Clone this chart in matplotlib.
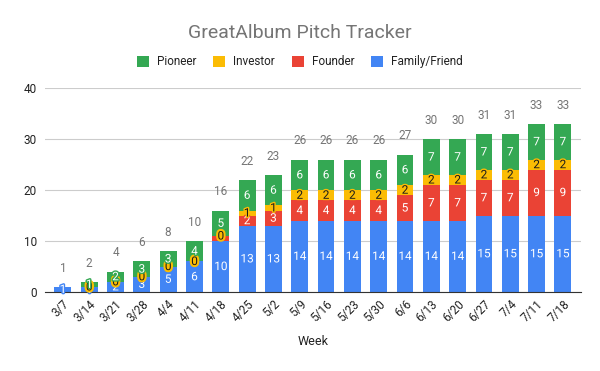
import matplotlib.pyplot as plt
import matplotlib.patheffects as pe
import numpy as np

plt.rcParams['font.family'] = ['Roboto', 'DejaVu Sans']

weeks = ['3/7', '3/14', '3/21', '3/28', '4/4', '4/11', '4/18', '4/25', '5/2', '5/9',
         '5/16', '5/23', '5/30', '6/6', '6/13', '6/20', '6/27', '7/4', '7/11', '7/18']
family = [1, 1, 2, 3, 5, 6, 10, 13, 13, 14, 14, 14, 14, 14, 14, 14, 15, 15, 15, 15]
founder = [0, 0, 0, 0, 0, 0, 1, 2, 3, 4, 4, 4, 4, 5, 7, 7, 7, 7, 9, 9]
investor = [0, 0, 0, 0, 0, 0, 0, 1, 1, 2, 2, 2, 2, 2, 2, 2, 2, 2, 2, 2]
pioneer = [0, 1, 2, 3, 3, 4, 5, 6, 6, 6, 6, 6, 6, 6, 7, 7, 7, 7, 7, 7]
# weeks where the investor series already had a (zero) entry
investor_started = [False] + [True] * 19

colors = {'Family/Friend': '#4285f4', 'Founder': '#ea4335',
          'Investor': '#fbbc04', 'Pioneer': '#34a853'}

fig = plt.figure(figsize=(6, 3.71), dpi=100)
ax = fig.add_axes([0.075, 0.2129, 0.893, 0.549])

x = np.arange(len(weeks))
w = 0.64
series = [('Family/Friend', family, 'white'), ('Founder', founder, 'white'),
          ('Investor', investor, '#1a1a1a'), ('Pioneer', pioneer, 'white')]
bottom = np.zeros(len(weeks))
bars = {}
for name, vals, tc in series:
    vals = np.array(vals)
    bars[name] = ax.bar(x, vals, w, bottom=bottom, color=colors[name], zorder=2)
    for i, v in enumerate(vals):
        mid = bottom[i] + v / 2
        if v > 0:
            if name == 'Founder' and v == 1 and investor[i] == 0:
                continue
            t = ax.text(x[i], mid, str(v), ha='center', va='center', fontsize=8.5,
                        color=tc, zorder=4)
            t.set_path_effects([pe.withStroke(linewidth=2, foreground=colors[name])])
        elif name == 'Investor' and investor_started[i]:
            t = ax.text(x[i], mid, '0', ha='center', va='center', fontsize=8.5,
                        color='#1a1a1a', zorder=4)
            t.set_path_effects([pe.withStroke(linewidth=3, foreground=colors['Investor'])])
    bottom = bottom + vals

for i, tot in enumerate(bottom):
    ax.annotate(str(int(tot)), (x[i], tot), xytext=(0, 13.5), textcoords='offset points',
                ha='center', va='center', fontsize=8.5, color='#757575')

ax.set_xlim(-0.68, len(weeks) - 1 + 0.68)
ax.set_ylim(0, 40)
ax.set_yticks([0, 10, 20, 30, 40])
ax.grid(axis='y', color='#cccccc', linewidth=0.8, zorder=0)
ax.set_axisbelow(True)
for s in ['top', 'right', 'left']:
    ax.spines[s].set_visible(False)
ax.spines['bottom'].set_color('#333333')
ax.spines['bottom'].set_zorder(3)
ax.tick_params(axis='both', length=0, labelsize=8.5, colors='#222222')
ax.tick_params(axis='y', pad=6)
ax.set_xticks(x)
ax.set_xticklabels(weeks, rotation=45, ha='right', rotation_mode='anchor')
ax.tick_params(axis='x', pad=4)
ax.set_xlabel('Week', fontsize=9, color='#222222', labelpad=8)

fig.text(0.5, 0.912, 'GreatAlbum Pitch Tracker', ha='center', va='center',
         fontsize=14, color='#757575')

order = ['Pioneer', 'Investor', 'Founder', 'Family/Friend']
fig.legend([bars[n] for n in order], order, loc='center', bbox_to_anchor=(0.5, 0.833),
           ncol=4, frameon=False, fontsize=8.5, handlelength=1.0, handleheight=1.0,
           handletextpad=0.7, columnspacing=1.4, labelcolor='#222222')

fig.savefig('out.png', dpi=100)
